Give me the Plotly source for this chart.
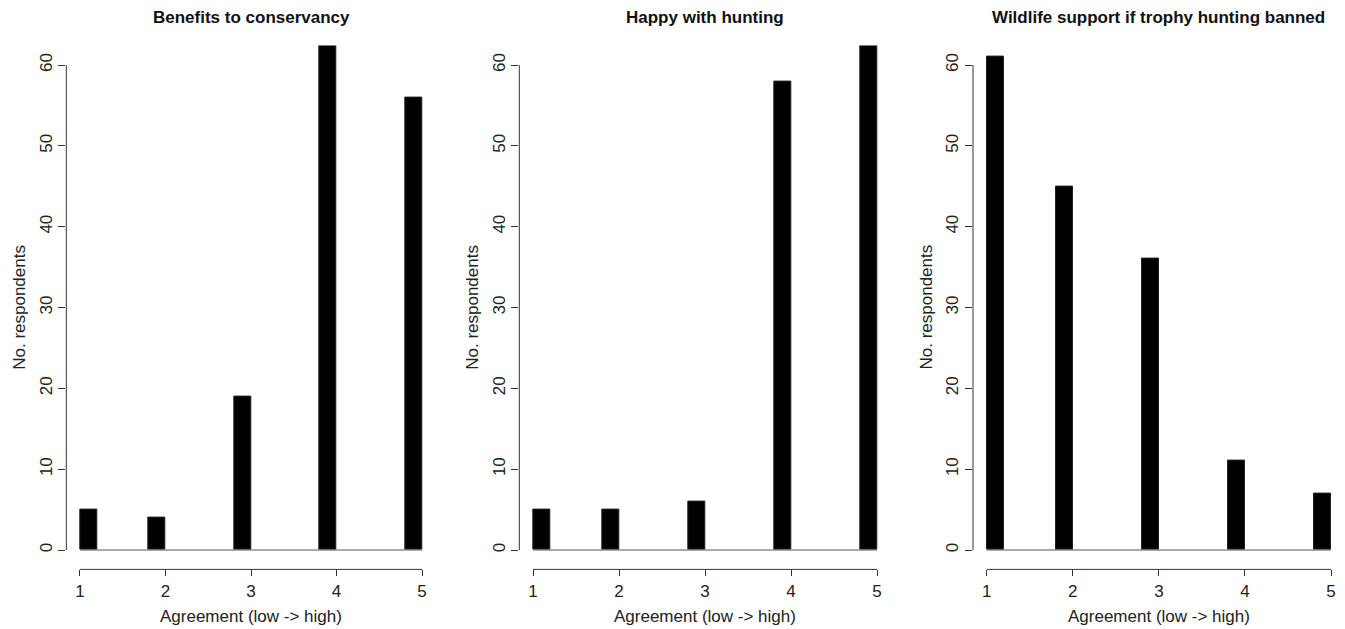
import plotly.graph_objects as go

# ---- data ----
panel_titles = ["Benefits to conservancy", "Happy with hunting",
                "Wildlife support if trophy hunting banned"]
bin_start = [1.0, 1.8, 2.8, 3.8, 4.8]   # histogram bins (breaks every 0.2)
bin_width = 0.2
counts_benefits = [5, 4, 19, 63, 56]
counts_happy = [5, 5, 6, 58, 63]
counts_wildlife = [61, 45, 36, 11, 7]
x_ticks = [1, 2, 3, 4, 5]
y_ticks = [0, 10, 20, 30, 40, 50, 60]
x_label = "Agreement (low -> high)"
y_label = "No. respondents"
all_counts = [counts_benefits, counts_happy, counts_wildlife]

W, H = 1345, 629
FONT = "Liberation Sans, Arial, sans-serif"
# plot regions in pixels (left, right)
regions = [(66.3, 435.7), (519.3, 890.8), (973.0, 1344.8)]
top_px, bot_px = 45.6, 569.4
ydom = [1 - bot_px / H, 1 - top_px / H]

fig = go.Figure()
for i, (counts, title, (l, r)) in enumerate(zip(all_counts, panel_titles, regions)):
    n = i + 1
    xa = "x" if n == 1 else f"x{n}"
    ya = "y" if n == 1 else f"y{n}"
    fig.add_trace(go.Bar(
        x=bin_start, y=counts, width=bin_width, offset=0,
        marker=dict(color="black", line=dict(color="#222", width=1)),
        xaxis=xa, yaxis=ya, showlegend=False, hoverinfo="x+y",
    ))
    xdom = [l / W, r / W]
    fig.layout[f"xaxis{'' if n == 1 else n}"] = dict(
        domain=xdom, range=[0.84, 5.16], anchor=ya,
        tickvals=x_ticks, ticks="outside", ticklen=6, tickwidth=1, tickcolor="#333",
        showline=False, showgrid=False, zeroline=False,
        tickfont=dict(family=FONT, size=17, color="#222"),
        fixedrange=True,
    )
    fig.layout[f"yaxis{'' if n == 1 else n}"] = dict(
        domain=ydom, range=[-2.4, 62.4], anchor=xa,
        tickvals=y_ticks, ticks="outside", ticklen=7, tickwidth=1, tickcolor="#333",
        tickangle=-90,
        showline=False, showgrid=False, zeroline=False,
        tickfont=dict(family=FONT, size=17, color="#222"),
        fixedrange=True,
    )
    # R-style axis lines spanning first to last tick
    fig.add_shape(type="line", xref=f"{xa} domain", yref=ya, x0=0, x1=0,
                  y0=y_ticks[0], y1=y_ticks[-1], line=dict(color="#333", width=1))
    fig.add_shape(type="line", xref=xa, yref=f"{ya} domain", x0=x_ticks[0], x1=x_ticks[-1],
                  y0=0, y1=0, line=dict(color="#333", width=1))
    # baseline of histogram (zero-height bins)
    fig.add_shape(type="line", xref=xa, yref=ya, x0=x_ticks[0], x1=x_ticks[-1],
                  y0=0, y1=0, line=dict(color="#555", width=1))
    cx = (l + r) / 2 / W
    fig.add_annotation(text=f"<b>{title}</b>", x=cx, y=1 - 18 / H, xref="paper", yref="paper",
                       showarrow=False, xanchor="center", yanchor="middle",
                       font=dict(family=FONT, size=17, color="#111"))
    fig.add_annotation(text=x_label, x=cx, y=1 - 616 / H, xref="paper", yref="paper",
                       showarrow=False, xanchor="center", yanchor="middle",
                       font=dict(family=FONT, size=17, color="#222"))
    fig.add_annotation(text=y_label, x=(l - 47) / W, y=(ydom[0] + ydom[1]) / 2,
                       xref="paper", yref="paper", textangle=-90,
                       showarrow=False, xanchor="center", yanchor="middle",
                       font=dict(family=FONT, size=17, color="#222"))

fig.update_layout(
    width=W, height=H, margin=dict(l=0, r=0, t=0, b=0),
    paper_bgcolor="white", plot_bgcolor="white", bargap=0,
)
fig.write_html(
    "out.html",
    config={"displayModeBar": False},
    post_script="document.body.style.margin='0px';document.body.style.overflow='hidden';",
)
